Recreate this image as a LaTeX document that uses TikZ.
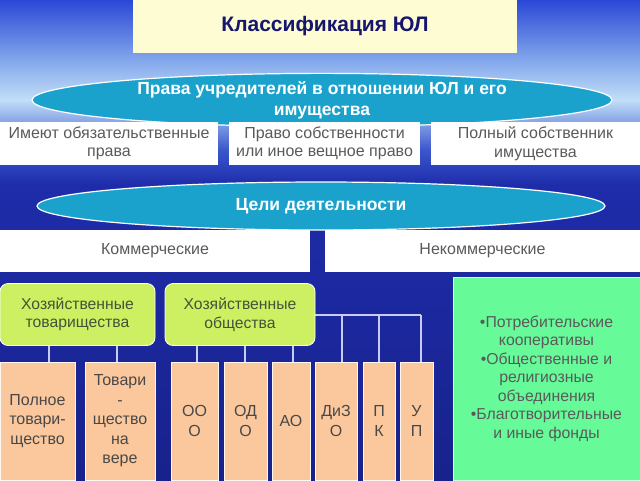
\documentclass[tikz,border=0pt]{standalone}
\usepackage{fontspec}
\setmainfont{Liberation Sans}
\usetikzlibrary{shapes.geometric}
\definecolor{titlefill}{HTML}{FDFCD2}
\definecolor{titletext}{HTML}{16166E}
\definecolor{ellfill}{HTML}{1AA2CC}
\definecolor{graytext}{HTML}{5A5A5A}
\definecolor{greenfill}{HTML}{CCF062}
\definecolor{greentext}{HTML}{44523A}
\definecolor{peach}{HTML}{FBC89E}
\definecolor{mint}{HTML}{66FA98}
\definecolor{connc}{HTML}{C8CCF4}
\definecolor{bgA}{HTML}{2A48D6}
\definecolor{bgB}{HTML}{86AAEC}
\definecolor{bgC}{HTML}{C2DEF8}
\definecolor{bgD}{HTML}{3A56CC}
\definecolor{bgE}{HTML}{1E2CAA}
\definecolor{bgF}{HTML}{18228C}
\tikzset{
  plain/.style={rectangle, inner sep=0pt, outer sep=0pt, align=center},
  ellnode/.style={ellipse, draw=white, line width=1.2pt, fill=ellfill, inner sep=0pt, outer sep=0pt, text=white, align=center, font=\fontsize{17.5}{21}\selectfont\bfseries},
  whitebox/.style={plain, fill=white, text=graytext, font=\fontsize{16}{18.5}\selectfont},
  greenbox/.style={plain, fill=greenfill, draw=white, line width=0.8pt, rounded corners=8pt, text=greentext, font=\fontsize{15.7}{18.5}\selectfont},
  peachbox/.style={plain, fill=peach, draw=white!85!peach, line width=0.6pt, text=graytext!80!black, font=\fontsize{16}{19.5}\selectfont},
  conn/.style={draw=connc, line width=1.1pt}
}
\begin{document}
\begin{tikzpicture}[x=1pt,y=-1pt]
\useasboundingbox (0,0) rectangle (640,480);
% background
\shade[top color=bgA, bottom color=bgB] (0,0) rectangle (640,62);
\shade[top color=bgB, bottom color=bgC] (0,62) rectangle (640,100);
\shade[top color=bgC, bottom color=bgD] (0,100) rectangle (640,150);
\shade[top color=bgD, bottom color=bgE] (0,150) rectangle (640,185);
\shade[top color=bgE, bottom color=bgF] (0,185) rectangle (640,480);

% title
\node[plain, fill=titlefill, minimum width=384pt, minimum height=53pt, text=titletext, font=\fontsize{21}{25}\selectfont\bfseries] (title) at (325,26.5) {Классификация ЮЛ};

% ellipse 1
\node[ellnode, minimum width=580pt, minimum height=46pt] (e1) at (322,100) {Права учредителей в отношении ЮЛ и его\\имущества};

% row 1
\node[whitebox, minimum width=218pt, minimum height=43pt] (r1) at (109,143.5) {Имеют обязательственные\\права};
\node[whitebox, minimum width=191pt, minimum height=43pt] (r2) at (324.5,143.5) {Право собственности\\или иное вещное право};
\node[whitebox, minimum width=209pt, minimum height=43pt] (r3) at (535.5,143.5) {Полный собственник\\имущества};

% ellipse 2
\node[ellnode, minimum width=568pt, minimum height=48pt] (e2) at (321,206) {Цели деятельности};

% row 2
\node[whitebox, minimum width=310pt, minimum height=42pt] (kom) at (155,251) {Коммерческие};
\node[whitebox, minimum width=315pt, minimum height=42pt] (nekom) at (482.5,251) {Некоммерческие};

% connector junctions
\coordinate (ja) at (49,315);
\coordinate (jb) at (117,315);
\coordinate (j1) at (197,315);
\coordinate (j2) at (245,315);
\coordinate (j3) at (293,315);
\coordinate (j4) at (342,315);
\coordinate (j5) at (379,315);
\coordinate (j6) at (421,315);

% peach boxes
\node[peachbox, minimum width=75pt, minimum height=118pt] (p1) at (37.5,421) {Полное\\товари-\\щество};
\node[peachbox, minimum width=70pt, minimum height=118pt] (p2) at (120,421) {Товари\\-\\щество\\на\\вере};
\node[peachbox, minimum width=47pt, minimum height=118pt] (p3) at (194.5,421) {ОО\\О};
\node[peachbox, minimum width=43pt, minimum height=118pt] (p4) at (245.5,421) {ОД\\О};
\node[peachbox, minimum width=38pt, minimum height=118pt] (p5) at (291,421) {АО};
\node[peachbox, minimum width=42pt, minimum height=118pt] (p6) at (336,421) {ДиЗ\\О};
\node[peachbox, minimum width=32pt, minimum height=118pt] (p7) at (379,421) {П\\К};
\node[peachbox, minimum width=33pt, minimum height=118pt] (p8) at (416.5,421) {У\\П};

% connectors (drawn before the green boxes so they pass behind them)
\draw[conn] (ja) -- (jb);
\draw[conn] (ja) -- (ja |- p1.north);
\draw[conn] (jb) -- (jb |- p2.north);
\draw[conn] (j1) -- (j6);
\draw[conn] (j1) -- (j1 |- p3.north);
\draw[conn] (j2) -- (j2 |- p4.north);
\draw[conn] (j3) -- (j3 |- p5.north);
\draw[conn] (j4) -- (j4 |- p6.north);
\draw[conn] (j5) -- (j5 |- p7.north);
\draw[conn] (j6) -- (j6 |- p8.north);

% green boxes
\node[greenbox, minimum width=155pt, minimum height=62pt] (g1) at (77.5,314.5) {Хозяйственные\\товарищества};
\node[greenbox, minimum width=150pt, minimum height=62pt] (g2) at (240,314.5) {Хозяйственные\\общества};

% mint box
\node[plain, fill=mint, draw=white!70!mint, line width=0.8pt, minimum width=187pt, minimum height=203pt, text=graytext, font=\fontsize{15.8}{18.5}\selectfont] (nk) at (546.5,378.5) {•Потребительские\\кооперативы\\•Общественные и\\религиозные\\объединения\\•Благотворительные\\и иные фонды};
\end{tikzpicture}
\end{document}
